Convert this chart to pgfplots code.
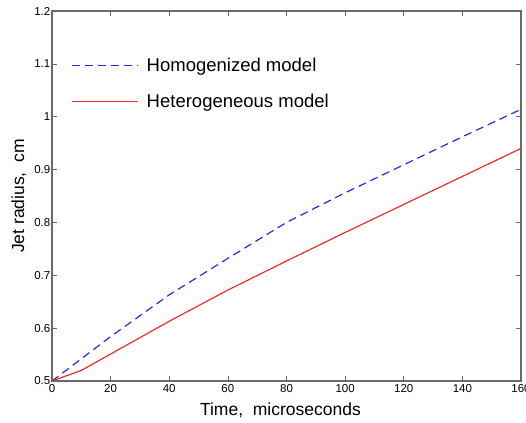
\documentclass[border=0pt]{standalone}
\usepackage{fontspec}
\setmainfont{Liberation Sans}
\usepackage{pgfplots}
\pgfplotsset{compat=1.18}

\definecolor{axgray}{RGB}{105,105,105}
\definecolor{homblue}{RGB}{40,40,235}
\definecolor{hetred}{RGB}{235,45,45}

\begin{document}
\begin{tikzpicture}
    \begin{axis}[
        name=ax,
        scale only axis,
        width=469pt, height=370pt,
        xmin=0, xmax=160,
        ymin=0.5, ymax=1.2,
        xtick={0,20,...,160},
        ytick={0.5,0.6,...,1.2},
        tick align=inside,
        major tick length=5pt,
        axis line style={axgray, line width=1.3pt},
        tick style={axgray, line width=0.6pt},
        /pgf/number format/assume math mode=true,
        ticklabel style={font=\fontsize{11.5}{13}\selectfont},
        yticklabel style={inner xsep=1.5pt},
        xlabel={Time,\ \ microseconds},
        ylabel={Jet radius,\ \ cm},
        xlabel style={font=\fontsize{17.5}{20}\selectfont, at={(axis description cs:0.487,-0.094)}, anchor=base},
        ylabel style={font=\fontsize{17.5}{20}\selectfont, at={(axis description cs:-0.047,0.5)}, anchor=south},
        legend style={draw=none, fill=none, at={(axis description cs:0.034,0.884)}, anchor=north west,
            font=\fontsize{18.5}{22}\selectfont, row sep=17pt},
        legend cell align=left,
        legend image code/.code={\draw[#1] (0pt,0pt) -- (66pt,0pt); \path[draw=none] (0pt,0pt) -- (73pt,0pt);},
    ]

    % Homogenized model
    \addplot[homblue, line width=1.2pt, dash pattern=on 8pt off 5pt] coordinates {
        (0,0.5) (10,0.542) (20,0.584) (40,0.663) (60,0.732) (80,0.800)
        (100,0.856) (120,0.909) (140,0.962) (160,1.014)
    };
    \addlegendentry{Homogenized model}

    % Heterogeneous model
    \addplot[hetred, line width=1.2pt] coordinates {
        (0,0.5) (10,0.52) (20,0.551) (40,0.613) (60,0.672) (80,0.727)
        (100,0.781) (120,0.834) (140,0.887) (160,0.94)
    };
    \addlegendentry{Heterogeneous model}

    \end{axis}
    \pgfresetboundingbox
    \path ([shift={(-52pt,-41pt)}]ax.south west) rectangle ([shift={(5pt,11pt)}]ax.north east);
\end{tikzpicture}
\end{document}
